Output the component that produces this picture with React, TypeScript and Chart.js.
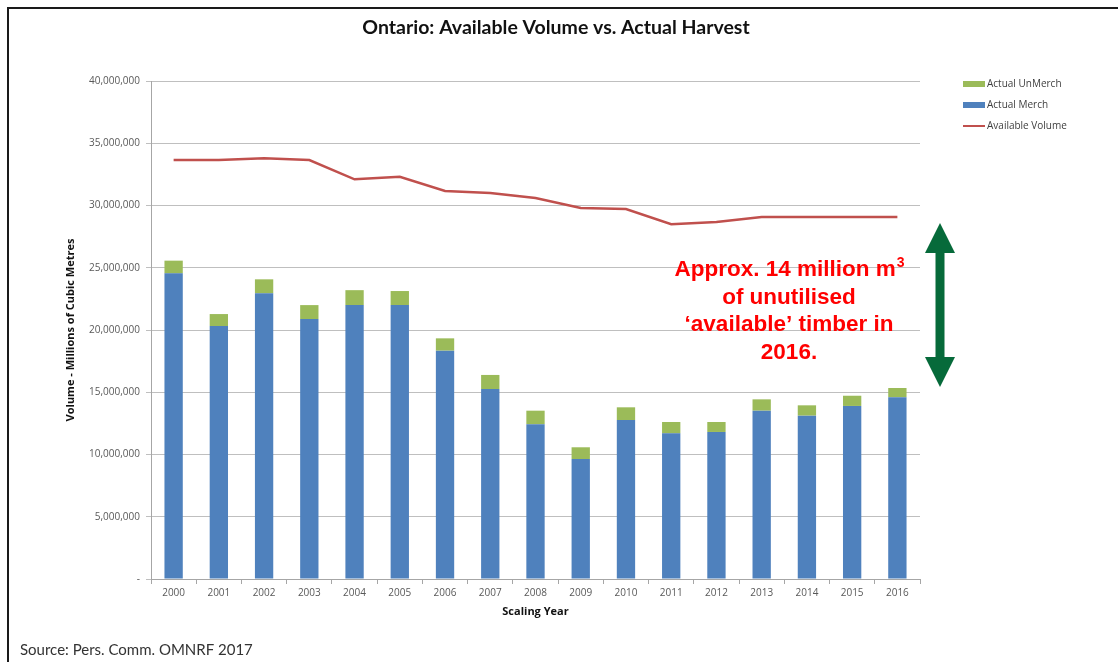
import React, { useEffect, useRef } from "react";
import { Chart, registerables } from "chart.js";

Chart.register(...registerables);

const years = ["2000","2001","2002","2003","2004","2005","2006","2007","2008","2009","2010","2011","2012","2013","2014","2015","2016"];
const actualMerch = [24550000,20320000,22950000,20880000,22000000,22000000,18340000,15260000,12430000,9640000,12770000,11700000,11810000,13520000,13120000,13900000,14600000];
const actualUnMerch = [1020000,960000,1120000,1120000,1200000,1130000,990000,1130000,1090000,940000,1020000,910000,800000,910000,830000,820000,740000];
const availableVolume = [33650000,33650000,33800000,33650000,32100000,32300000,31160000,31000000,30600000,29800000,29720000,28500000,28670000,29080000,29080000,29080000,29080000];

const titleText = "Ontario: Available Volume vs. Actual Harvest";
const yTitle = "Volume - Millions of Cubic Metres";
const xTitle = "Scaling Year";
const sourceText = "Source: Pers. Comm. OMNRF 2017";
const legendLabels = ["Actual UnMerch", "Actual Merch", "Available Volume"];
const noteLines = ["Approx. 14 million m", "of unutilised", "\u2018available\u2019 timber in", "2016."];

const BLUE = "#4F81BD";
const GREEN = "#9BBB59";
const RED = "#C0504D";
const ARROW = "#066A3A";

const overlay = {
  id: "overlay",
  afterDraw(chart: any) {
    const ctx = chart.ctx as CanvasRenderingContext2D;
    const area = chart.chartArea;
    ctx.save();
    // border
    ctx.strokeStyle = "#1a1a1a";
    ctx.lineWidth = 2;
    ctx.beginPath();
    ctx.moveTo(8, 662);
    ctx.lineTo(8, 8);
    ctx.lineTo(1118, 8);
    ctx.stroke();

    // title
    ctx.fillStyle = "#111";
    ctx.font = "bold 19.5px Lato";
    ctx.textAlign = "center";
    ctx.textBaseline = "middle";
    ctx.fillText(titleText, 556, 28);

    // axis titles
    ctx.font = "bold 11px 'Open Sans'";
    ctx.fillStyle = "#111";
    ctx.fillText(xTitle, (area.left + area.right) / 2, 612);
    ctx.save();
    ctx.translate(71, (area.top + area.bottom) / 2);
    ctx.rotate(-Math.PI / 2);
    ctx.fillText(yTitle, 0, 0);
    ctx.restore();

    // legend
    const lx = 963;
    const ys = [84, 105, 126];
    ctx.font = "10px 'Open Sans'";
    ctx.textAlign = "left";
    ctx.fillStyle = GREEN;
    ctx.fillRect(lx, ys[0] - 3, 22, 6);
    ctx.fillStyle = BLUE;
    ctx.fillRect(lx, ys[1] - 3, 22, 6);
    ctx.strokeStyle = RED;
    ctx.lineWidth = 2;
    ctx.beginPath();
    ctx.moveTo(lx, ys[2]);
    ctx.lineTo(lx + 22, ys[2]);
    ctx.stroke();
    ctx.fillStyle = "#404040";
    legendLabels.forEach((t, i) => ctx.fillText(t, lx + 24, ys[i] + 0.5));

    // annotation text
    ctx.fillStyle = "#FF0000";
    const big = "bold 22.5px 'Liberation Sans', Arial";
    const small = "bold 14px 'Liberation Sans', Arial";
    ctx.font = big;
    const cx = 789;
    const lineYs = [270, 297.5, 325, 352.5];
    const w0 = ctx.measureText(noteLines[0]).width;
    ctx.font = small;
    const wsup = ctx.measureText("3").width;
    const start = cx - (w0 + wsup) / 2;
    ctx.textAlign = "left";
    ctx.font = big;
    ctx.fillText(noteLines[0], start, lineYs[0]);
    ctx.font = small;
    ctx.fillText("3", start + w0 + 1, lineYs[0] - 7);
    ctx.font = big;
    ctx.textAlign = "center";
    for (let i = 1; i < noteLines.length; i++) ctx.fillText(noteLines[i], cx, lineYs[i]);

    // double arrow
    const ax = 940, top = 223, bot = 387, hw = 15, hh = 30, sw = 4.5;
    ctx.fillStyle = ARROW;
    ctx.beginPath();
    ctx.moveTo(ax, top);
    ctx.lineTo(ax + hw, top + hh);
    ctx.lineTo(ax + sw, top + hh);
    ctx.lineTo(ax + sw, bot - hh);
    ctx.lineTo(ax + hw, bot - hh);
    ctx.lineTo(ax, bot);
    ctx.lineTo(ax - hw, bot - hh);
    ctx.lineTo(ax - sw, bot - hh);
    ctx.lineTo(ax - sw, top + hh);
    ctx.lineTo(ax - hw, top + hh);
    ctx.closePath();
    ctx.fill();

    // source
    ctx.fillStyle = "#333";
    ctx.font = "15px Lato";
    ctx.textAlign = "left";
    ctx.fillText(sourceText, 20, 650);
    ctx.restore();
  },
};

export default function App() {
  const ref = useRef<HTMLCanvasElement>(null);
  useEffect(() => {
    if (!ref.current) return;
    const chart = new Chart(ref.current, {
      type: "bar",
      data: {
        labels: years,
        datasets: [
          { type: "line", label: "Available Volume", data: availableVolume, borderColor: RED, borderWidth: 2.5, pointRadius: 0, stack: "line", order: 0, tension: 0 } as any,
          { type: "bar", label: "Actual Merch", data: actualMerch, backgroundColor: BLUE, stack: "harvest", order: 1, categoryPercentage: 0.405, barPercentage: 1 } as any,
          { type: "bar", label: "Actual UnMerch", data: actualUnMerch, backgroundColor: GREEN, stack: "harvest", order: 1, categoryPercentage: 0.405, barPercentage: 1 } as any,
        ],
      },
      options: {
        responsive: false,
        animation: false,
        layout: { padding: { top: 81, right: 198, bottom: 0, left: 0 } },
        plugins: { legend: { display: false }, tooltip: { enabled: false }, title: { display: false } },
        scales: {
          x: {
            stacked: true,
            afterFit: (s: any) => { s.height = 83; },
            grid: { drawOnChartArea: false, drawTicks: true, tickLength: 5, color: "#A6A6A6", offset: true },
            border: { display: true, color: "#A6A6A6" },
            ticks: { color: "#595959", font: { family: "'Open Sans'", size: 10 }, padding: 3, maxRotation: 0 },
          },
          y: {
            stacked: true,
            min: 0,
            max: 40000000,
            afterFit: (s: any) => { s.width = 151; },
            grid: { color: "#BFBFBF", tickLength: 5 },
            border: { display: true, color: "#A6A6A6" },
            ticks: {
              stepSize: 5000000,
              color: "#595959",
              font: { family: "'Open Sans'", size: 10 },
              padding: 6,
              callback: (v: any) => (Number(v) === 0 ? "-" : Number(v).toLocaleString("en-US")),
            },
          },
        },
      },
      plugins: [overlay],
    });
    return () => chart.destroy();
  }, []);
  return (
    <div style={{ position: "absolute", left: 0, top: 0, width: 1118, height: 662, background: "#fff" }}>
      <canvas ref={ref} width={1118} height={662} />
    </div>
  );
}
